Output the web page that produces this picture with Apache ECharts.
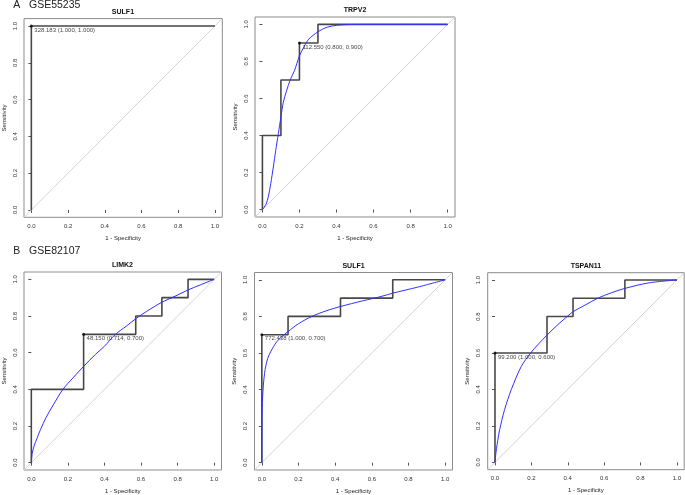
<!DOCTYPE html>
<html><head><meta charset="utf-8">
<script src="https://cdn.jsdelivr.net/npm/echarts@6/dist/echarts.min.js"></script>
<style>html,body{margin:0;padding:0;background:#fff}#c{width:685px;height:495px}</style>
</head><body><div id="c"></div>
<script>
// ---- data ----
const panelTitles = ['SULF1', 'TRPV2', 'LIMK2', 'SULF1', 'TSPAN11'];
const groupLetters = ['A', 'B'];
const groupNames = ['GSE55235', 'GSE82107'];
const tickValues = [0, 0.2, 0.4, 0.6, 0.8, 1.0];
const aucValues = [1.000, 0.900, 0.700, 0.871, 0.829];
const thrValues = ['328.183', '112.550', '48.150', '772.438', '99.200'];
const thrSpec = [1.000, 0.800, 0.714, 1.000, 1.000];
const thrSens = [1.000, 0.900, 0.700, 0.700, 0.600];

// empirical ROC steps: [1 - specificity, sensitivity]
const rocSULF1a = [[0,0],[0,1],[1,1]];
const rocTRPV2 = [[0,0],[0,0.4],[0.1,0.4],[0.1,0.7],[0.2,0.7],[0.2,0.9],[0.3,0.9],[0.3,1],[1,1]];
const rocLIMK2 = [[0,0],[0,0.4],[0.286,0.4],[0.286,0.7],[0.571,0.7],[0.571,0.8],[0.714,0.8],[0.714,0.9],[0.857,0.9],[0.857,1],[1,1]];
const rocSULF1b = [[0,0],[0,0.7],[0.143,0.7],[0.143,0.8],[0.429,0.8],[0.429,0.9],[0.714,0.9],[0.714,1],[1,1]];
const rocTSPAN11 = [[0,0],[0,0.6],[0.286,0.6],[0.286,0.8],[0.429,0.8],[0.429,0.9],[0.714,0.9],[0.714,1],[1,1]];

// smoothed ROC curves (blue)
const smoothSULF1a = [];
const smoothTRPV2 = [[0,0],[0.02,0.03],[0.032,0.07],[0.045,0.14],[0.059,0.23],[0.072,0.32],[0.086,0.41],[0.1,0.5],[0.113,0.58],[0.13,0.64],[0.15,0.7],[0.173,0.75],[0.2,0.83],[0.225,0.88],[0.25,0.92],[0.3,0.96],[0.35,0.985],[0.4,0.995],[0.5,1],[1,1]];
const smoothLIMK2 = [[0,0],[0.005,0.05],[0.015,0.09],[0.03,0.13],[0.05,0.18],[0.08,0.245],[0.12,0.315],[0.173,0.4],[0.23,0.465],[0.286,0.525],[0.35,0.59],[0.4,0.635],[0.46,0.7],[0.52,0.745],[0.571,0.785],[0.63,0.825],[0.714,0.875],[0.78,0.905],[0.857,0.942],[0.93,0.972],[1,1]];
const smoothSULF1b = [[0,0],[0.0005,0.15],[0.002,0.3],[0.008,0.42],[0.018,0.51],[0.032,0.57],[0.05,0.61],[0.08,0.66],[0.11,0.69],[0.143,0.717],[0.2,0.76],[0.273,0.8],[0.35,0.83],[0.429,0.854],[0.55,0.885],[0.655,0.91],[0.714,0.927],[0.85,0.96],[1,1]];
const smoothTSPAN11 = [[0,0],[0.005,0.05],[0.012,0.1],[0.026,0.18],[0.053,0.29],[0.09,0.4],[0.144,0.525],[0.196,0.6],[0.24,0.65],[0.286,0.698],[0.34,0.75],[0.397,0.8],[0.429,0.826],[0.5,0.865],[0.565,0.9],[0.64,0.93],[0.714,0.954],[0.85,0.985],[1,1]];

const rocSteps = [rocSULF1a, rocTRPV2, rocLIMK2, rocSULF1b, rocTSPAN11];
const smoothCurves = [smoothSULF1a, smoothTRPV2, smoothLIMK2, smoothSULF1b, smoothTSPAN11];

// ---- layout ----
const FONT = '"Liberation Sans", Arial, Helvetica, sans-serif';
const grids = [
  {left: 23.6, top: 18.6, width: 198.7, height: 198.7},
  {left: 255, top: 17, width: 200, height: 200},
  {left: 23.5, top: 272, width: 198, height: 198.5},
  {left: 254.5, top: 272.5, width: 198, height: 197.5},
  {left: 487.7, top: 272.7, width: 196.5, height: 197}
];
const titleY = [12, 10, 265, 266, 266.5];
const aucAnchorX = [0.5, 0.6, 0.5, 0.5, 0.5];
const aucAnchorY = 0.485;
const groupTextY = [5, 251];

const xAxes = [], yAxes = [], series = [], graphics = [];
grids.forEach((g, i) => {
  g.show = true; g.borderColor = '#8c8c8c'; g.borderWidth = 1; g.backgroundColor = 'transparent';
  xAxes.push({
    gridIndex: i, type: 'value', min: -0.04, max: 1.04,
    name: '1 - Specificity', nameLocation: 'middle', nameGap: 18,
    nameTextStyle: {fontFamily: FONT, fontSize: 6, color: '#222'},
    axisLine: {show: false},
    axisTick: {show: true, length: 3, inside: false, customValues: tickValues, lineStyle: {color: '#555', width: 1}},
    axisLabel: {show: true, customValues: tickValues, margin: 6, fontFamily: FONT, fontSize: 6, color: '#333',
      formatter: v => Number(v).toFixed(1)},
    splitLine: {show: false}
  });
  yAxes.push({
    gridIndex: i, type: 'value', min: -0.04, max: 1.04,
    name: 'Sensitivity', nameLocation: 'middle', nameGap: 17, nameRotate: 90,
    nameTextStyle: {fontFamily: FONT, fontSize: 6, color: '#222'},
    axisLine: {show: false},
    axisTick: {show: true, length: 3, inside: false, customValues: tickValues, lineStyle: {color: '#555', width: 1}},
    axisLabel: {show: true, customValues: tickValues, rotate: 90, margin: 6, fontFamily: FONT, fontSize: 6, color: '#333',
      formatter: v => Number(v).toFixed(1)},
    splitLine: {show: false}
  });
  series.push({
    type: 'line', xAxisIndex: i, yAxisIndex: i, data: [[-0.04, -0.04], [1.04, 1.04]],
    symbol: 'none', silent: true, lineStyle: {color: '#d4d4d4', width: 1}, z: 1
  });
  series.push({
    type: 'line', xAxisIndex: i, yAxisIndex: i, data: rocSteps[i],
    symbol: 'none', silent: true, lineStyle: {color: '#474747', width: 1.6}, z: 2
  });
  if (smoothCurves[i].length) {
    series.push({
      type: 'line', xAxisIndex: i, yAxisIndex: i, data: smoothCurves[i], smooth: 0.3,
      symbol: 'none', silent: true, lineStyle: {color: '#3030ff', width: 1}, z: 3
    });
  }
  series.push({
    type: 'scatter', xAxisIndex: i, yAxisIndex: i,
    data: [[1 - thrSpec[i], thrSens[i]]], symbol: 'circle', symbolSize: 3,
    itemStyle: {color: '#000'}, silent: true, z: 4,
    label: {show: true, position: 'right', distance: 1.5, offset: [0, 4],
      fontFamily: FONT, fontSize: 6, color: '#111',
      formatter: () => thrValues[i] + ' (' + thrSpec[i].toFixed(3) + ', ' + thrSens[i].toFixed(3) + ')'}
  });
  series.push({
    type: 'scatter', xAxisIndex: i, yAxisIndex: i,
    data: [[aucAnchorX[i], aucAnchorY]], symbolSize: 0.1,
    itemStyle: {opacity: 0}, silent: true, z: 4,
    label: {show: true, position: 'right', distance: 0, fontFamily: FONT, fontSize: 6, color: '#111',
      formatter: () => 'AUC: ' + aucValues[i].toFixed(3)}
  });
  graphics.push({
    type: 'text', x: g.left + g.width / 2, y: titleY[i], silent: true,
    style: {text: panelTitles[i], font: 'bold 7px ' + FONT, fill: '#111',
      textAlign: 'center', textVerticalAlign: 'middle', align: 'center', verticalAlign: 'middle'}
  });
});
groupLetters.forEach((l, k) => {
  graphics.push({type: 'text', x: 13.3, y: groupTextY[k], silent: true,
    style: {text: l, font: '10.5px ' + FONT, fill: '#222', textVerticalAlign: 'middle', verticalAlign: 'middle'}});
  graphics.push({type: 'text', x: 29, y: groupTextY[k], silent: true,
    style: {text: groupNames[k], font: '10.5px ' + FONT, fill: '#222', textVerticalAlign: 'middle', verticalAlign: 'middle'}});
});

const chart = echarts.init(document.getElementById('c'), null, {renderer: 'canvas'});
chart.setOption({
  animation: false,
  backgroundColor: '#fff',
  grid: grids,
  xAxis: xAxes,
  yAxis: yAxes,
  series: series,
  graphic: graphics
});
</script></body></html>
